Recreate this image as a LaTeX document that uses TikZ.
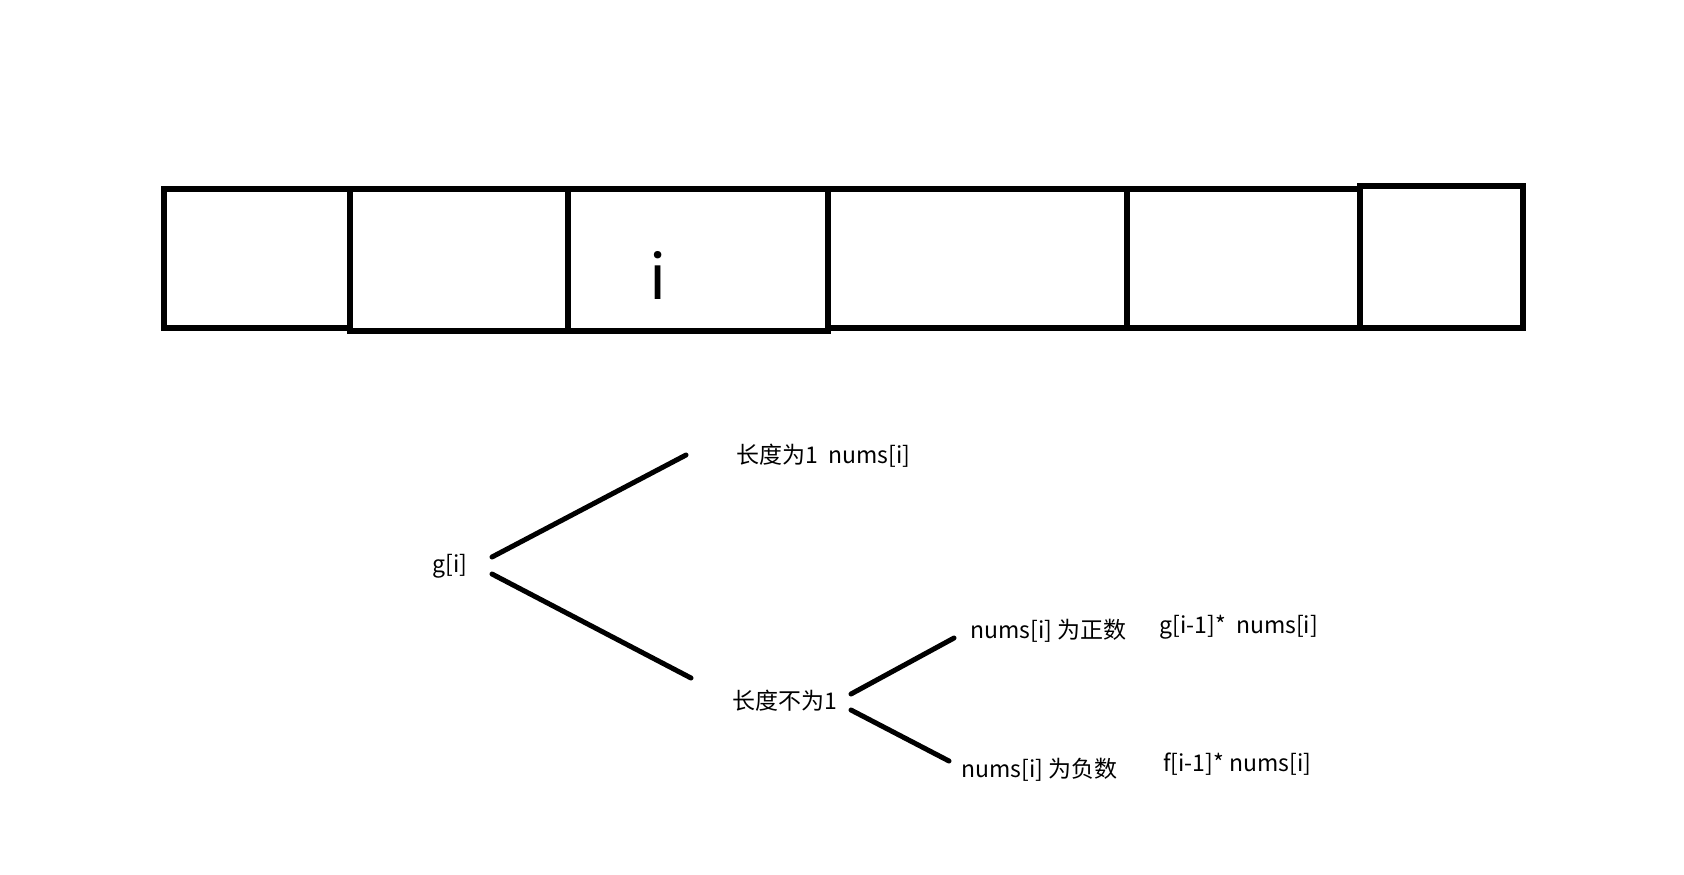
\documentclass[tikz,border=0pt]{standalone}
\usepackage{fontspec}
\setmainfont{Noto Sans CJK SC}
\usetikzlibrary{positioning}

\begin{document}
\begin{tikzpicture}[x=0.5pt, y=-0.5pt, every node/.style={font=\fontsize{11.5}{13}\selectfont, inner sep=0pt},
	cell/.style={line width=2.7pt}, branch/.style={line width=2.5pt, line cap=round}]
	\useasboundingbox (0,0) rectangle (1684,874);
	% the array cells
	\foreach \l/\r/\t/\b in {164/350/189/328, 350/568/189/331, 568/828/189/331, 828/1127/189/328, 1127/1360/189/328, 1360/1523/186/328} {
		\draw[cell] (\l,\t) rectangle (\r,\b);
	}
	\node[anchor=base, font=\fontsize{31}{34}\selectfont] (idx) at (658,299) {i};
	% the cases for g[i]
	\node[anchor=west] (g) at (432,566) {g[i]};
	\node[anchor=west] (len1) at (736,456) {长度为1\ \ nums[i]};
	\node[anchor=west] (lenn) at (732,701) {长度不为1};
	\node[anchor=west] (pos) at (970,631) {nums[i] 为正数};
	\node[anchor=west] (neg) at (961,770) {nums[i] 为负数};
	\node[anchor=west] (posv) at (1159,627) {g[i-1]*\ \ nums[i]};
	\node[anchor=west] (negv) at (1163,764) {f[i-1]*\ nums[i]};
	\coordinate (g1) at (492,557);
	\coordinate (g2) at (492,574);
	\coordinate (l1) at (686,455);
	\coordinate (l2) at (691,678);
	\coordinate (n0) at (851,694);
	\coordinate (n1) at (954,638);
	\coordinate (m0) at (851,710);
	\coordinate (m1) at (949,761);
	\draw[branch] (g1) -- (l1);
	\draw[branch] (g2) -- (l2);
	\draw[branch] (n0) -- (n1);
	\draw[branch] (m0) -- (m1);
\end{tikzpicture}
\end{document}
